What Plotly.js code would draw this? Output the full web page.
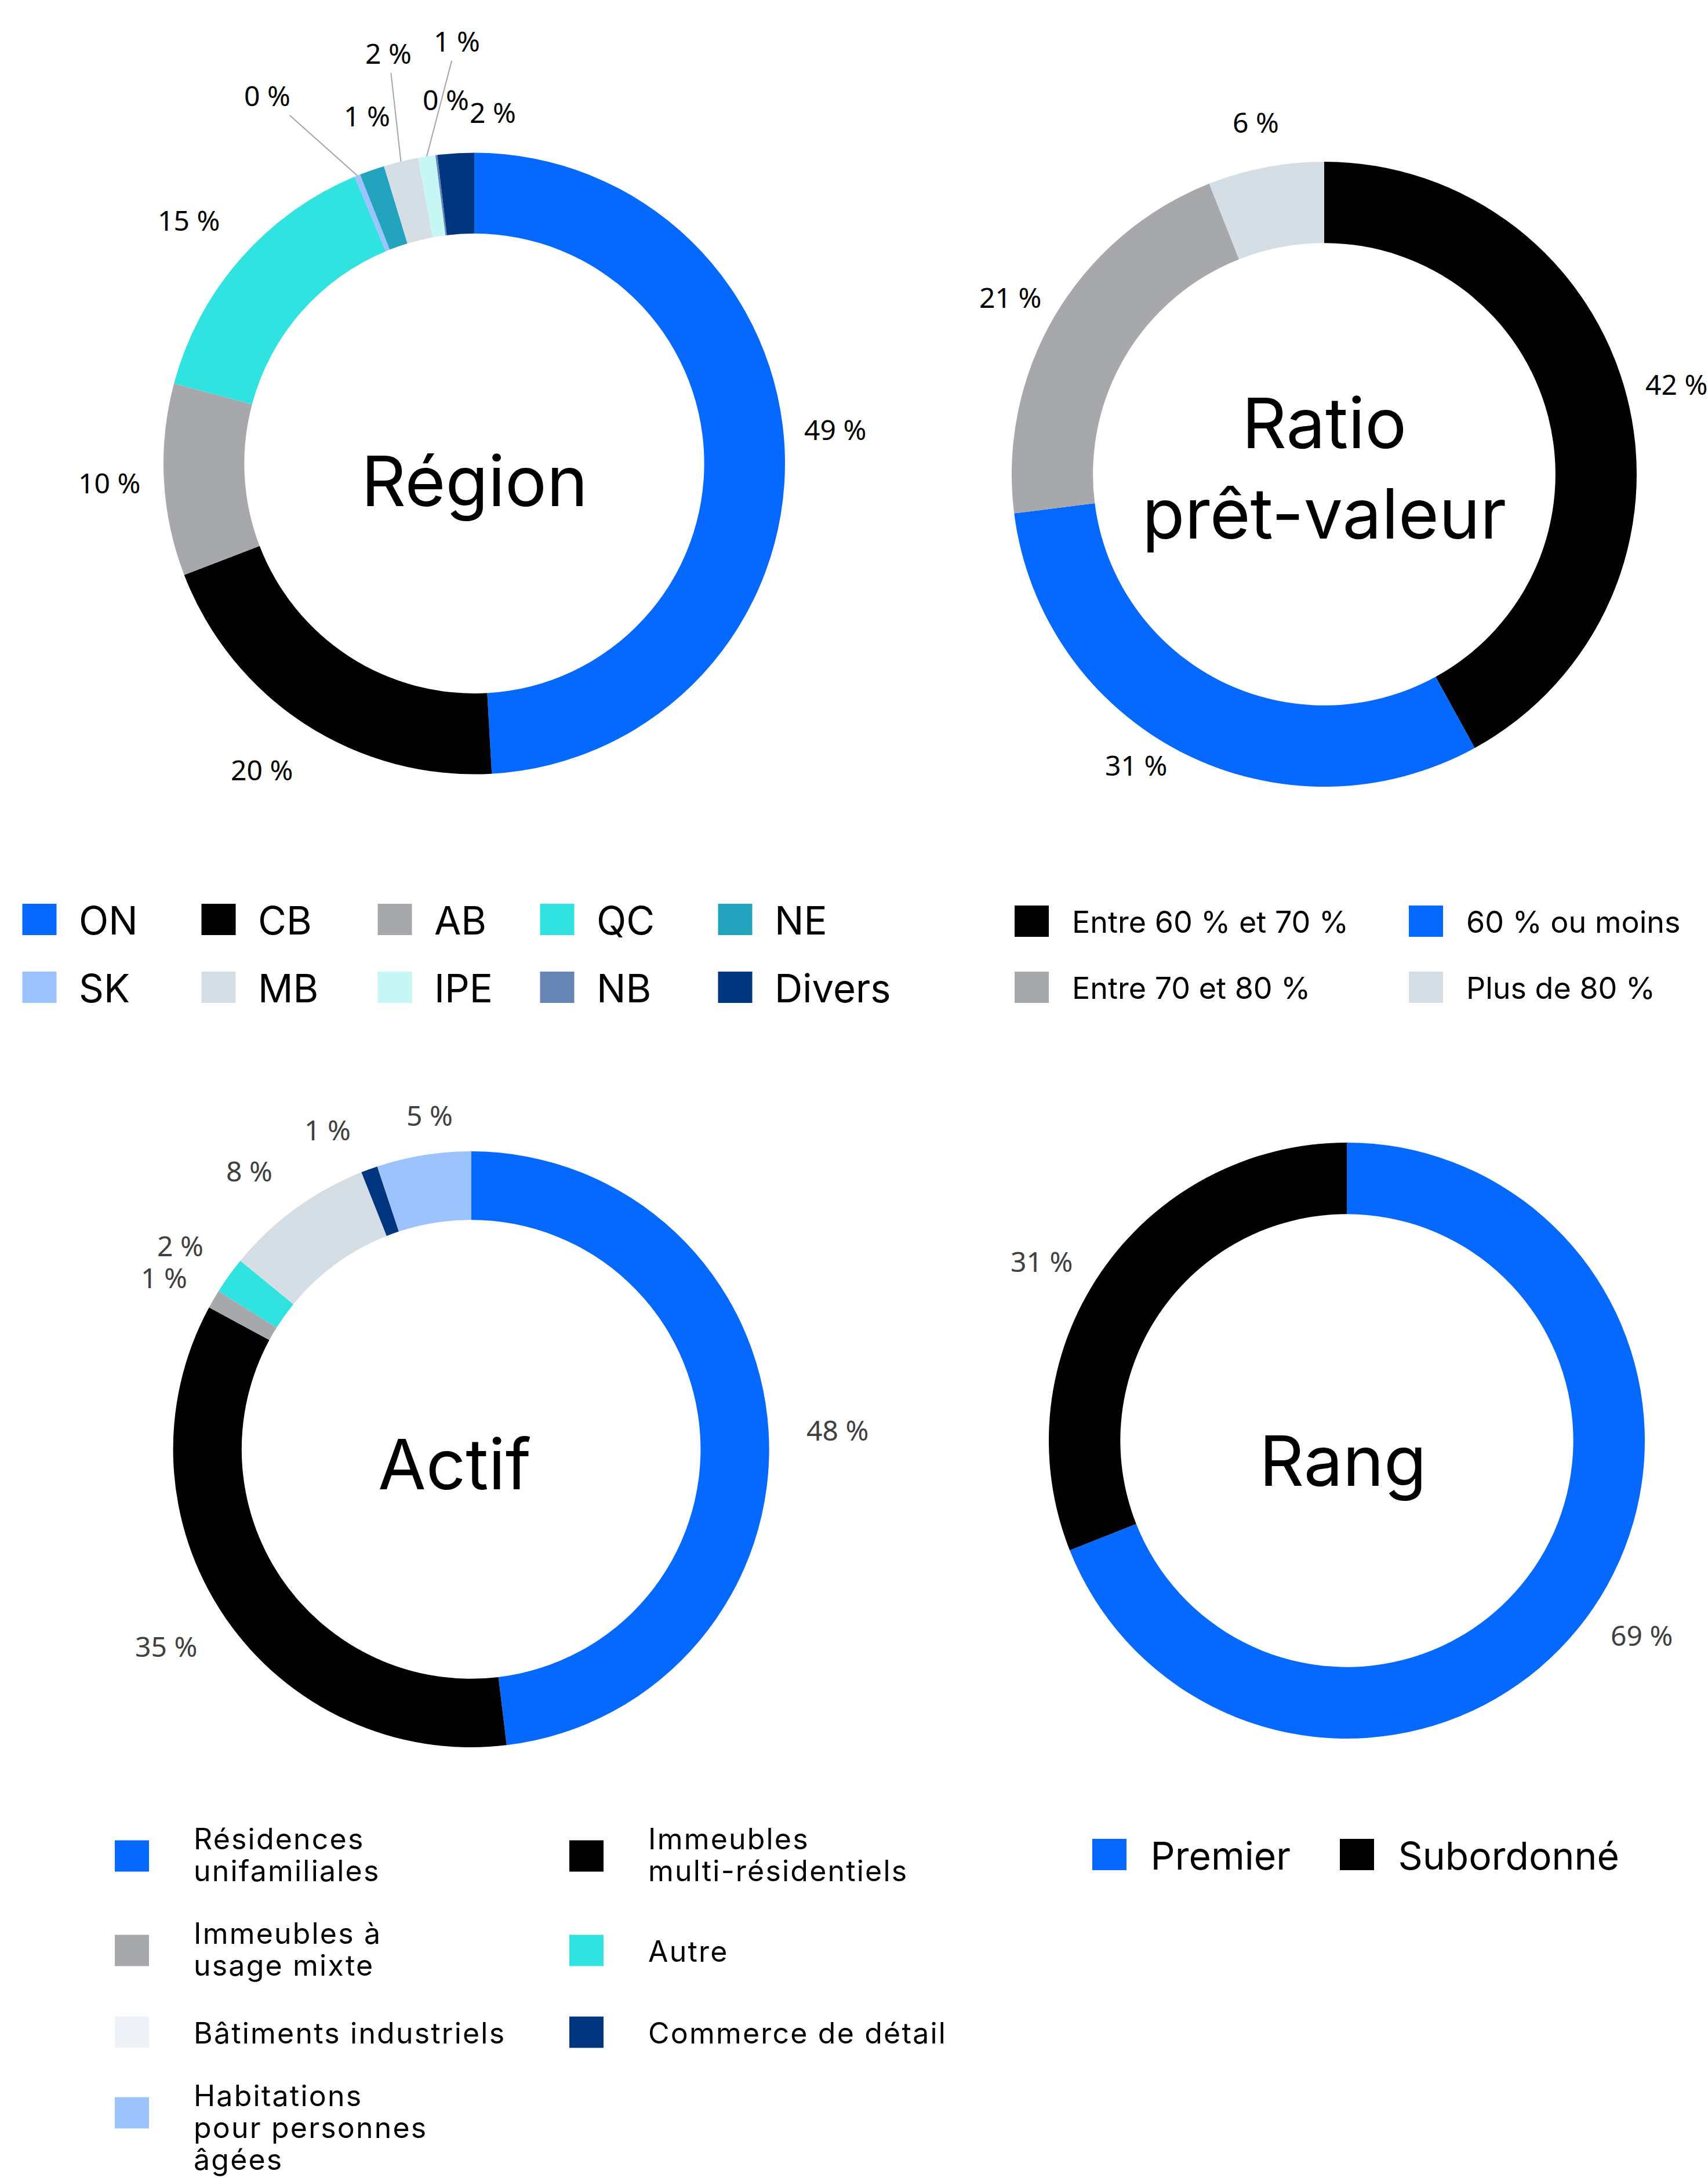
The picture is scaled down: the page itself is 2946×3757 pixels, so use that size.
<!DOCTYPE html>
<html><head><meta charset="utf-8">
<script src="https://cdn.plot.ly/plotly-3.0.1.min.js"></script>
<style>
html,body{margin:0;padding:0;background:#fff;}
#wrap{position:relative;width:2946px;height:3757px;overflow:hidden;background:#fff;}
#left{position:absolute;left:0;top:0;width:3300px;height:3757px;}
#right{position:absolute;left:1473px;top:0;width:3300px;height:3757px;}
#left .legend2 text.legend2text{letter-spacing:2.2px;}
</style></head><body>
<div id="wrap"><div id="left"></div><div id="right"></div></div>
<script>
// ---------- data ----------
const regionLabels = ['ON','CB','AB','QC','SK','NE','MB','IPE','NB','Divers'];
const regionValues = [49.2, 20.1, 10.0, 14.6, 0.3, 1.3, 1.8, 0.9, 0.1, 1.9];
const regionColors = ['#0569FF','#000000','#A7A8AB','#30E3E0','#9DC3FF','#23A3BE','#D5DEE5','#C6F7F5','#6785B4','#00357F'];

const ratioLabels = ['Entre 60 % et 70 %','60 % ou moins','Entre 70 et 80 %','Plus de 80 %'];
const ratioValues = [42, 31, 21, 6];
const ratioColors = ['#000000','#0569FF','#A7A8AB','#D5DEE5'];

const actifLabels = ['Résidences<br>unifamiliales','Immeubles<br>multi-résidentiels','Immeubles à<br>usage mixte','Autre','Bâtiments industriels','Commerce de détail','Habitations<br>pour personnes<br>âgées'];
const actifValues = [48.1, 34.8, 1.0, 2.0, 8.1, 0.9, 5.1];
const actifColors = ['#0569FF','#000000','#A7A8AB','#30E3E0','#D5DEE5','#00357F','#9DC3FF'];
const actifLegendColors = ['#0569FF','#000000','#A7A8AB','#30E3E0','#EEF2F6','#00357F','#9DC3FF'];

const rangLabels = ['Premier','Subordonné'];
const rangValues = [69, 31];
const rangColors = ['#0569FF','#000000'];

const chartTitles = ['Région','Ratio<br>prêt-valeur','Actif','Rang'];

// ---------- layout / style ----------
const FIG_W = 3300, FIG_H = 3757;
const TITLE_FONT = 'Inter, "Noto Sans", sans-serif';
const LABEL_FONT = '"Noto Sans", "Open Sans", sans-serif';
const LABEL_SIZE = 48;

// percentage label placement: offset (px) of the label centre from the outer edge of its slice
const regionLabelPlace = [[87,-44],[-76,78],[-94,4],[-89,-67],[-155,-138,1],[-9,-94],[-21,-187,1],[52,-199,1],[16,-96],[64,-71]];
const ratioLabelPlace  = [[85,-21],[-80,21],[-78,-31],[-17,-78]];
const actifLabelPlace  = [[119,-3],[-101,51],[-86,-38],[-84,-52],[-79,-66],[-72,-68],[10,-69]];
const rangLabelPlace   = [[83,47],[-101,-21]];

function pieTrace(labels, values, colors, domain, hole, legendId) {
  return {
    type: 'pie', labels: labels, values: values, sort: false,
    direction: 'clockwise', rotation: 0, hole: hole,
    marker: {colors: colors, line: {width: 0}},
    domain: domain, textinfo: 'none', textposition: 'none',
    hoverinfo: 'none', legend: legendId
  };
}
function centerAnn(text, domain, xshift, yshift, size) {
  return {
    text: text, xref: 'paper', yref: 'paper',
    x: (domain.x[0] + domain.x[1]) / 2, y: (domain.y[0] + domain.y[1]) / 2,
    xanchor: 'center', yanchor: 'middle', xshift: xshift, yshift: yshift, showarrow: false,
    font: {family: TITLE_FONT, size: size, color: '#000'}
  };
}
// value labels, anchored on the outer edge of each slice at its mid-angle (computed from the data)
function sliceLabelAnns(values, domain, place, color) {
  const total = values.reduce((a, b) => a + b, 0);
  const cx = (domain.x[0] + domain.x[1]) / 2 * FIG_W;
  const cy = (1 - (domain.y[0] + domain.y[1]) / 2) * FIG_H;
  const r = Math.min((domain.x[1] - domain.x[0]) * FIG_W, (domain.y[1] - domain.y[0]) * FIG_H) / 2;
  const anns = [];
  let cum = 0;
  values.forEach((v, i) => {
    const mid = (cum + v / 2) / total * 2 * Math.PI;
    cum += v;
    const p = place[i];
    const px = cx + r * Math.sin(mid), py = cy - r * Math.cos(mid);
    const a = {
      text: Math.round(v) + ' %', xref: 'paper', yref: 'paper',
      x: px / FIG_W, y: 1 - py / FIG_H,
      font: {family: LABEL_FONT, size: LABEL_SIZE, color: color}
    };
    if (p[2]) {
      Object.assign(a, {showarrow: true, ax: p[0], ay: p[1], arrowhead: 0, arrowwidth: 2,
        arrowcolor: '#A5A5A5', standoff: 0, startstandoff: 0});
    } else {
      Object.assign(a, {showarrow: false, xanchor: 'center', yanchor: 'middle', xshift: p[0], yshift: -p[1]});
    }
    anns.push(a);
  });
  return anns;
}

// left figure
const regionDomain = {x: [0.085455, 0.410303], y: [0.64453, 0.92986]};
const actifDomain  = {x: [0.090485, 0.402000], y: [0.19776, 0.47139]};
// right figure (starts at page x = 1473)
const ratioDomain  = {x: [0.082424, 0.409091], y: [0.63881, 0.92574]};
const rangDomain   = {x: [0.101818, 0.413333], y: [0.20176, 0.47538]};

const leftData = [
  pieTrace(regionLabels, regionValues, regionColors, regionDomain, 0.74, 'legend'),
  pieTrace(actifLabels, actifValues, actifColors, actifDomain, 0.77, 'legend2')
];
const leftLayout = {
  width: FIG_W, height: FIG_H, margin: {l: 0, r: 0, t: 0, b: 0},
  paper_bgcolor: 'rgba(0,0,0,0)', plot_bgcolor: 'rgba(0,0,0,0)',
  showlegend: true,
  legend: {orientation: 'h', x: 0, xanchor: 'left', y: 0.59116, yanchor: 'top',
    itemwidth: 126, entrywidthmode: 'pixels', entrywidth: 159,
    font: {family: TITLE_FONT, size: 67, color: '#000'}, bgcolor: 'rgba(0,0,0,0)'},
  legend2: {orientation: 'h', x: 0.036667, xanchor: 'left', y: 0.16689, yanchor: 'top',
    itemwidth: 203, entrywidthmode: 'pixels', entrywidth: 562,
    font: {family: TITLE_FONT, size: 50, color: '#000'}, bgcolor: 'rgba(0,0,0,0)'},
  annotations: [centerAnn(chartTitles[0], regionDomain, 0, -30, 120), centerAnn(chartTitles[2], actifDomain, -29, -25, 120)]
    .concat(sliceLabelAnns(regionValues, regionDomain, regionLabelPlace, '#000000'))
    .concat(sliceLabelAnns(actifValues, actifDomain, actifLabelPlace, '#404040'))
};

const rightData = [
  pieTrace(ratioLabels, ratioValues, ratioColors, ratioDomain, 0.74, 'legend'),
  pieTrace(rangLabels, rangValues, rangColors, rangDomain, 0.76, 'legend2')
];
const rightLayout = {
  width: FIG_W, height: FIG_H, margin: {l: 0, r: 0, t: 0, b: 0},
  paper_bgcolor: 'rgba(0,0,0,0)', plot_bgcolor: 'rgba(0,0,0,0)',
  showlegend: true,
  legend: {orientation: 'h', x: 0.071818, xanchor: 'left', y: 0.58778, yanchor: 'top',
    itemwidth: 129, entrywidthmode: 'pixels', entrywidth: 536,
    font: {family: TITLE_FONT, size: 52, color: '#000'}, bgcolor: 'rgba(0,0,0,0)'},
  legend2: {orientation: 'h', x: 0.111970, xanchor: 'left', y: 0.16167, yanchor: 'top',
    itemwidth: 132, entrywidthmode: 'pixels', entrywidth: 280,
    font: {family: TITLE_FONT, size: 66, color: '#000'}, bgcolor: 'rgba(0,0,0,0)'},
  annotations: [centerAnn(chartTitles[1], ratioDomain, 0, 10, 120), centerAnn(chartTitles[3], rangDomain, -6, -35, 120)]
    .concat(sliceLabelAnns(ratioValues, ratioDomain, ratioLabelPlace, '#000000'))
    .concat(sliceLabelAnns(rangValues, rangDomain, rangLabelPlace, '#404040'))
};

// enlarge legend swatches, lay entries on the reference grid, tighten wrapped lines
function tuneLegend(gd, id, opt) {
  const lg = gd.querySelector('g.' + id);
  if (!lg) return;
  const sb = lg.querySelector('.scrollbox');
  if (sb) sb.removeAttribute('clip-path');
  const items = Array.from(lg.querySelectorAll('g.traces'));
  let bx = null, by = null;
  items.forEach((it, i) => {
    const m = /translate\(\s*([-\d.eE]+)[ ,]+([-\d.eE]+)\s*\)/.exec(it.getAttribute('transform') || '');
    if (!m) return;
    if (bx === null) { bx = +m[1]; by = +m[2]; }
    const slot = opt.slots ? opt.slots[i] : i;
    const row = Math.floor(slot / opt.colX.length), col = slot % opt.colX.length;
    it.setAttribute('transform', 'translate(' + (bx + opt.colX[col]) + ',' + (by + (opt.rowY[row] || 0)) + ')');
    const p = it.querySelector('path.legendpie');
    if (p) {
      p.setAttribute('d', 'M29.5,27H-29.5V-27H29.5Z');
      if (opt.fills && opt.fills[i]) p.style.fill = opt.fills[i];
    }
  });
  if (!opt.lineFactor) return;
  Array.from(lg.querySelectorAll('text')).forEach(t => {
    if ((t.getAttribute('class') || '') !== id + 'text') return;
    let lines = Array.from(t.querySelectorAll('tspan')).filter(s => (' ' + (s.getAttribute('class') || '') + ' ').indexOf(' line ') >= 0);
    if (!lines.length) lines = Array.from(t.children).filter(c => c.tagName.toLowerCase() === 'tspan');
    const n = lines.length;
    if (n < 2) return;
    lines.forEach((ln, k) => ln.setAttribute('dy', (k * opt.lineFactor).toFixed(3) + 'em'));
    const b1 = parseFloat(t.getAttribute('y')) || 0;
    const want = -opt.fontSize * opt.lineFactor * 0.2;
    t.setAttribute('transform', 'translate(0,' + (want - b1).toFixed(2) + ')');
  });
}

function tuneLeft(gd) {
  tuneLegend(gd, 'legend', {colX: [0, 309, 613, 893, 1200], rowY: [0, 117], slots: [0, 1, 2, 3, 5, 4, 6, 7, 8, 9]});
  tuneLegend(gd, 'legend2', {colX: [0, 784], rowY: [0, 163, 304, 443], fills: actifLegendColors, lineFactor: 1.1, fontSize: 50});
}
function tuneRight(gd) {
  tuneLegend(gd, 'legend', {colX: [0, 680], rowY: [0, 114]});
  tuneLegend(gd, 'legend2', {colX: [0, 427], rowY: [0]});
}

const cfg = {displayModeBar: false, responsive: false};
Plotly.newPlot('left', leftData, leftLayout, cfg).then(gd => {
  tuneLeft(gd);
  gd.on('plotly_afterplot', () => tuneLeft(gd));
});
Plotly.newPlot('right', rightData, rightLayout, cfg).then(gd => {
  tuneRight(gd);
  gd.on('plotly_afterplot', () => tuneRight(gd));
});
</script>
</body></html>
